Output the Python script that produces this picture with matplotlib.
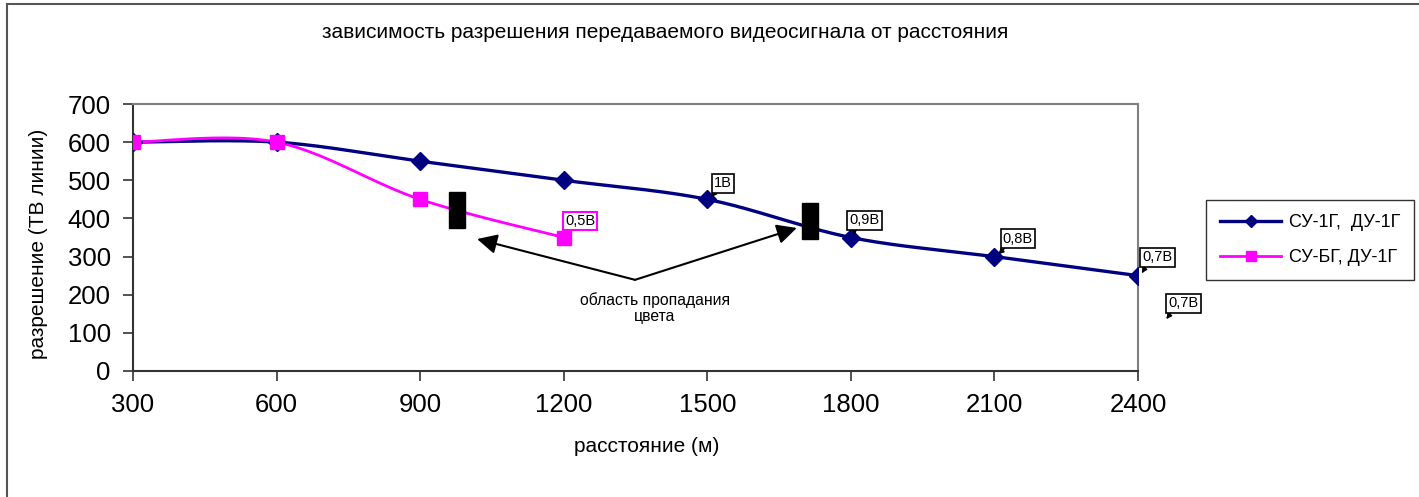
import numpy as np
import matplotlib
matplotlib.use("Agg")
import matplotlib.pyplot as plt
from matplotlib.patches import Rectangle
from matplotlib.lines import Line2D

plt.rcParams['font.family'] = ['Liberation Sans', 'DejaVu Sans']

# distances (m) and resolution (TV lines)
dist = [300, 600, 900, 1200, 1500, 1800, 2100, 2400]
res_1g = [600, 600, 550, 500, 450, 350, 300, 250]
dist_bg = [300, 600, 900, 1200]
res_bg = [600, 600, 450, 350]

label_1g = "СУ-1Г,  ДУ-1Г"
label_bg = "СУ-БГ, ДУ-1Г"
title = "зависимость разрешения передаваемого видеосигнала от расстояния"
xlabel = "расстояние (м)"
ylabel = "разрешение (ТВ линии)"
xticks = [300, 600, 900, 1200, 1500, 1800, 2100, 2400]
yticks = [0, 100, 200, 300, 400, 500, 600, 700]

# voltage labels on the blue curve
volt_pts = [1500, 1800, 2100, 2400]
volt_txt = ["1В", "0,9В", "0,8В", "0,7В"]


def smooth(xs, ys, n=40):
    """Spreadsheet-style smoothed line: cubic Bezier with Catmull-Rom control points."""
    p = np.column_stack([xs, ys]).astype(float)
    ext = np.vstack([p[0], p, p[-1]])
    out = []
    t = np.linspace(0, 1, n)[:, None]
    for i in range(len(p) - 1):
        p0, p1, p2, p3 = ext[i], ext[i + 1], ext[i + 2], ext[i + 3]
        c1 = p1 + (p2 - p0) / 6.0
        c2 = p2 - (p3 - p1) / 6.0
        seg = ((1 - t) ** 3) * p1 + 3 * ((1 - t) ** 2) * t * c1 + 3 * (1 - t) * t ** 2 * c2 + t ** 3 * p2
        out.append(seg if i == 0 else seg[1:])
    s = np.vstack(out)
    return s[:, 0], s[:, 1]


W, H = 1419, 497
fig = plt.figure(figsize=(W / 100, H / 100), dpi=100)
ax = fig.add_axes([133 / W, 1 - 371 / H, (1138 - 133) / W, (371 - 104) / H])

# outer chart border (top and left edges)
fig.add_artist(Line2D([7 / W, 1], [1 - 4 / H, 1 - 4 / H], transform=fig.transFigure, color='#555555', lw=1.5))
fig.add_artist(Line2D([7 / W, 7 / W], [0, 1 - 4 / H], transform=fig.transFigure, color='#555555', lw=1.5))

sx, sy = smooth(dist, res_1g)
ax.plot(sx, sy, color='#000080', lw=2.4, zorder=3)
ax.plot(dist, res_1g, ls='none', marker='D', ms=9.5, color='#000080', zorder=4)
bx, by = smooth(dist_bg, res_bg)
ax.plot(bx, by, color='#FF00FF', lw=2.0, zorder=3)
ax.plot(dist_bg, res_bg, ls='none', marker='s', ms=10.5, color='#FF00FF', zorder=4)

# legend proxies
h1 = Line2D([], [], color='#000080', lw=2.4, marker='D', ms=6)
h2 = Line2D([], [], color='#FF00FF', lw=2.0, marker='s', ms=7)
leg = fig.legend([h1, h2], [label_1g, label_bg], loc='center',
                 bbox_to_anchor=(1310 / W, 1 - 240 / H), fontsize=13,
                 frameon=True, fancybox=False, edgecolor='black',
                 handlelength=3.4, borderpad=0.8, labelspacing=1.0, handletextpad=0.4)
leg.get_frame().set_linewidth(1.0)

ax.set_xlim(300, 2400)
ax.set_ylim(0, 700)
ax.set_xticks(xticks)
ax.set_yticks(yticks)
ax.tick_params(axis='both', labelsize=18.5, direction='out', length=7, width=1.2, color='#333333')
ax.tick_params(axis='x', pad=9)
ax.tick_params(axis='y', pad=9)
for s in ['top', 'right']:
    ax.spines[s].set_color('#808080')
    ax.spines[s].set_linewidth(1.5)
for s in ['left', 'bottom']:
    ax.spines[s].set_color('#333333')
    ax.spines[s].set_linewidth(1.5)

ax.set_xlabel(xlabel, fontsize=15)
ax.xaxis.set_label_coords((647 - 133) / (1138 - 133), -(437 - 371) / (371 - 104))
ax.set_ylabel(ylabel, fontsize=15)
ax.yaxis.set_label_coords(-(133 - 48) / (1138 - 133), (371 - 244) / (371 - 104))
fig.text(665 / W, 1 - 33 / H, title, fontsize=15, ha='center', va='center')

# colour-loss zones
ax.add_patch(Rectangle((960, 375), 34, 94, color='black', zorder=5))
ax.add_patch(Rectangle((1698, 346), 33, 94, color='black', zorder=5))

# pointer arrows to the colour-loss zones
for tip in [(1019, 346), (1687, 375)]:
    ax.annotate('', xy=tip, xytext=(1349, 239),
                arrowprops=dict(arrowstyle='-|>', color='black', lw=1.5,
                                mutation_scale=30, shrinkA=0, shrinkB=0))
ax.text(1390, 207, "область пропадания\nцвета", fontsize=11.3, ha='center', va='top',
        linespacing=1.1)

# voltage callouts
box = dict(boxstyle='square,pad=0.15', fc='white', ec='black', lw=1.2)
offsets = {"1В": (1533, 492), "0,9В": (1829, 395), "0,8В": (2149, 347), "0,7В": (2441, 298)}
for xv, txt in zip(volt_pts, volt_txt):
    yv = res_1g[dist.index(xv)]
    tx, ty = offsets[txt]
    ax.annotate(txt, xy=(xv + 8, yv + 6), xytext=(tx, ty), fontsize=10.5,
                ha='center', va='center', bbox=box, annotation_clip=False, zorder=6,
                arrowprops=dict(arrowstyle='-|>', color='black', lw=1.0,
                                mutation_scale=8, shrinkA=0, shrinkB=0,
                                relpos=(0.15, 0.0)))
ax.annotate("0,7В", xy=(2459, 136), xytext=(2495, 177), fontsize=10.5,
            ha='center', va='center', bbox=box, annotation_clip=False, zorder=6,
            arrowprops=dict(arrowstyle='-|>', color='black', lw=1.0,
                            mutation_scale=8, shrinkA=0, shrinkB=0, relpos=(0.15, 0.0)))
ax.text(1234, 393, "0,5В", fontsize=10.5, ha='center', va='center', zorder=6,
        bbox=dict(boxstyle='square,pad=0.15', fc='white', ec='#FF00FF', lw=1.5))

fig.savefig("out.png", dpi=100)
